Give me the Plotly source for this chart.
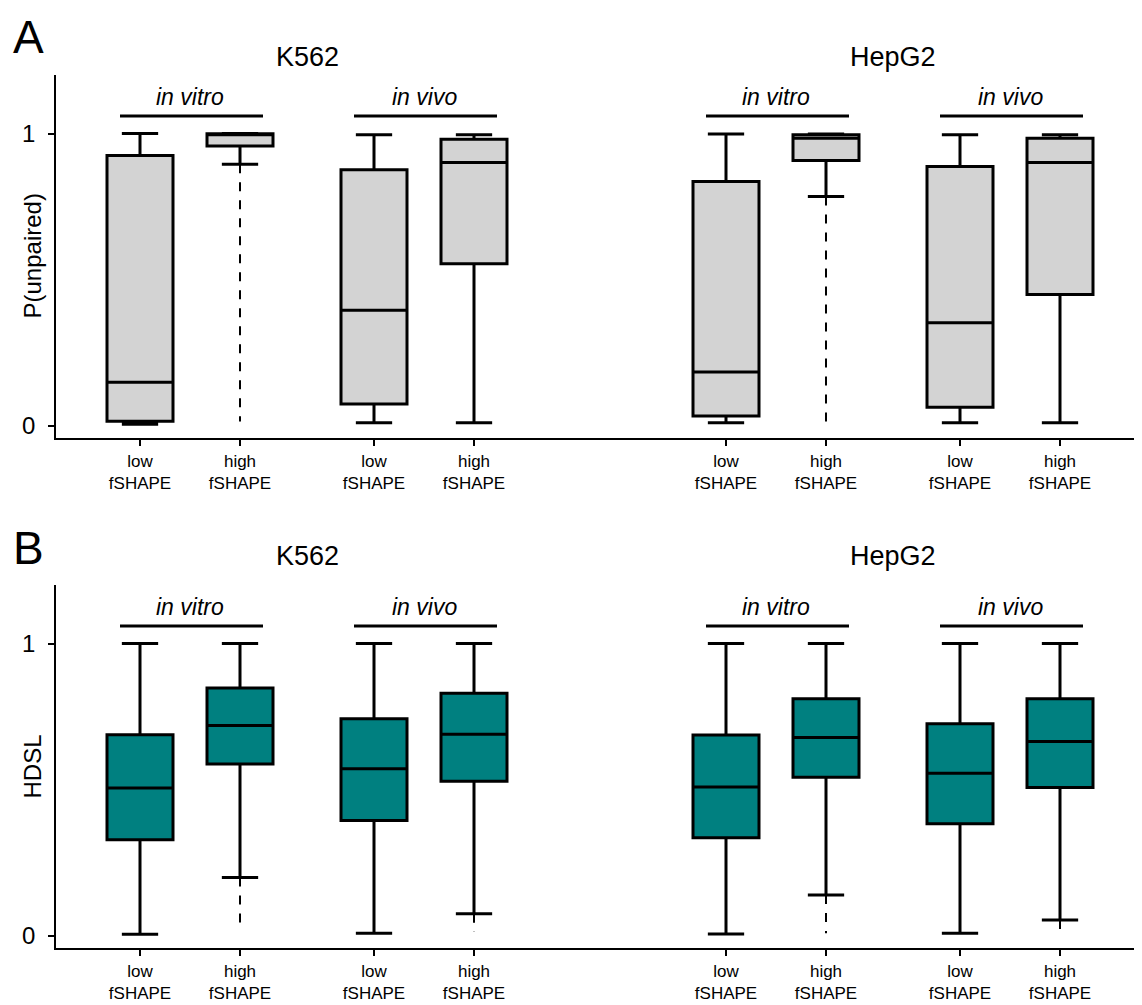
import plotly.graph_objects as go
from plotly.subplots import make_subplots

# ---- data ----
positions = [0, 1, 2.34, 3.34, 5.86, 6.86, 8.2, 9.2]
tick_labels = ["low<br>fSHAPE", "high<br>fSHAPE"] * 4
cell_lines = ["K562", "HepG2"]
conditions = ["in vitro", "in vivo"]
y_titles = ["P(unpaired)", "HDSL"]

# Panel A: P(unpaired)
a_upper = [1.0, 1.0, 0.996, 0.996, 0.998, 0.998, 0.996, 0.996]
a_q3 = [0.925, 0.999, 0.876, 0.98, 0.836, 0.996, 0.887, 0.984]
a_median = [0.150, 0.998, 0.396, 0.901, 0.185, 0.984, 0.353, 0.901]
a_q1 = [0.016, 0.957, 0.075, 0.555, 0.034, 0.908, 0.064, 0.45]
a_lower = [0.006, 0.895, 0.011, 0.011, 0.011, 0.785, 0.011, 0.011]
a_min = [0.006, 0.015, 0.011, 0.011, 0.011, 0.011, 0.011, 0.011]

# Panel B: HDSL
b_upper = [1.0, 1.0, 1.0, 1.0, 1.0, 1.0, 1.0, 1.0]
b_q3 = [0.688, 0.848, 0.743, 0.83, 0.687, 0.811, 0.726, 0.811]
b_median = [0.506, 0.720, 0.572, 0.69, 0.509, 0.679, 0.556, 0.665]
b_q1 = [0.329, 0.588, 0.395, 0.529, 0.336, 0.543, 0.384, 0.508]
b_lower = [0.006, 0.2, 0.009, 0.076, 0.007, 0.14, 0.009, 0.055]
b_min = [0.006, 0.041, 0.009, 0.014, 0.007, 0.009, 0.009, 0.013]

FONT = "Liberation Sans, Arial, sans-serif"

fig = make_subplots(rows=2, cols=1, vertical_spacing=0.0)

panels = [
    (1, a_upper, a_q3, a_median, a_q1, a_lower, a_min, "#d3d3d3"),
    (2, b_upper, b_q3, b_median, b_q1, b_lower, b_min, "#008080"),
]

for row, up, q3, med, q1, lo, mn, color in panels:
    fig.add_trace(go.Box(
        x=positions, q1=q1, median=med, q3=q3, lowerfence=lo, upperfence=up,
        width=0.66, whiskerwidth=0.55, fillcolor=color,
        line=dict(color="black", width=3), boxpoints=False,
        showlegend=False, hoverinfo="skip"), row=row, col=1)
    for p, l, m in zip(positions, lo, mn):
        if l - m > 0.005:
            fig.add_trace(go.Scatter(
                x=[p, p], y=[l, m], mode="lines",
                line=dict(color="black", width=2, dash="dash"),
                showlegend=False, hoverinfo="skip"), row=row, col=1)

axis_common = dict(showline=True, linecolor="black", linewidth=1.5,
                   ticks="outside", tickcolor="black", tickwidth=1.5, ticklen=6,
                   showgrid=False, zeroline=False, automargin=False)

for row in (1, 2):
    fig.update_xaxes(range=[-0.84, 10.0], tickvals=positions, ticktext=tick_labels,
                     tickfont=dict(size=17, color="black", family=FONT),
                     ticklabelstandoff=1,
                     **axis_common, row=row, col=1)
    fig.update_yaxes(range=[-0.041, 1.2], tickvals=[0, 1], ticktext=["0", "1"],
                     tickfont=dict(size=24, color="black", family=FONT),
                     ticklabelstandoff=8,
                     **axis_common, row=row, col=1)

ydomA = [(948 - 438) / 873, 1.0]
ydomB = [0.0, (948 - 585) / 873]
fig.update_layout(yaxis=dict(domain=ydomA), yaxis2=dict(domain=ydomB))

annotations = []
shapes = []
# panel letters
for letter, py in [("A", 37), ("B", 548)]:
    annotations.append(dict(text=letter, x=(28 - 56) / 1084, y=(948 - py) / 873,
                            xref="paper", yref="paper", xanchor="center", yanchor="middle",
                            showarrow=False, font=dict(size=46, color="black", family=FONT)))

# y-axis titles
for dom, title in zip([ydomA, ydomB], y_titles):
    annotations.append(dict(text=title, x=(32 - 56) / 1084, y=(dom[0] + dom[1]) / 2,
                            xref="paper", yref="paper", xanchor="center", yanchor="middle",
                            textangle=-90, showarrow=False,
                            font=dict(size=24, color="black", family=FONT)))

for row, xr, yr, ytitle_px in [(1, "x", "y", 57), (2, "x2", "y2", 556)]:
    for ci, cl in enumerate(cell_lines):
        g = positions[ci * 4: ci * 4 + 4]
        annotations.append(dict(text=cl, x=(g[0] + g[3]) / 2, y=(948 - ytitle_px) / 873,
                                xref=xr, yref="paper", xanchor="center", yanchor="middle",
                                showarrow=False,
                                font=dict(size=27, color="black", family=FONT)))
        for k, cond in enumerate(conditions):
            p0, p1 = g[2 * k], g[2 * k + 1]
            annotations.append(dict(text="<i>" + cond + "</i>", x=(p0 + p1) / 2, y=1.125,
                                    xref=xr, yref=yr, xanchor="center", yanchor="middle",
                                    showarrow=False,
                                    font=dict(size=23, color="black", family=FONT)))
            shapes.append(dict(type="line", x0=p0 - 0.2, x1=p1 + 0.23, y0=1.06, y1=1.06,
                               xref=xr, yref=yr, line=dict(color="black", width=3)))

# page body has an 8px margin, so the figure is sized/margined to compensate
fig.update_layout(
    width=1134, height=997,
    margin=dict(l=48, r=2, t=67, b=57),
    plot_bgcolor="white", paper_bgcolor="white",
    font=dict(family=FONT, color="black"),
    annotations=annotations, shapes=shapes,
    showlegend=False,
)

fig.write_html("out.html")
